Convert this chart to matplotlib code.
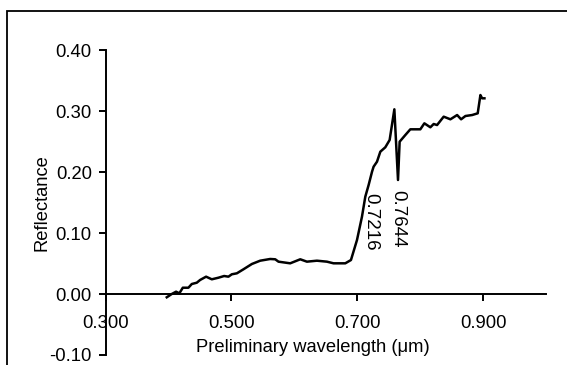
import matplotlib
matplotlib.use("Agg")
import matplotlib.pyplot as plt
from matplotlib.patches import Rectangle
from matplotlib.ticker import FormatStrFormatter

plt.rcParams['font.family'] = ['Liberation Sans', 'DejaVu Sans']
plt.rcParams['axes.unicode_minus'] = False

wavelength = [0.3971, 0.4050, 0.4119, 0.4171, 0.4226, 0.4315, 0.4369, 0.4448, 0.4501, 0.4596,
              0.4687, 0.4792, 0.4883, 0.4951, 0.5005, 0.5085, 0.5190, 0.5324, 0.5456, 0.5615,
              0.5695, 0.5747, 0.5933, 0.6093, 0.6199, 0.6358, 0.6517, 0.6622, 0.6809, 0.6899,
              0.6995, 0.7074, 0.7127, 0.7180, 0.7234, 0.7259, 0.7313, 0.7366, 0.7445, 0.7514,
              0.7589, 0.7647, 0.7673, 0.7764, 0.7843, 0.8002, 0.8066, 0.8161, 0.8214, 0.8268,
              0.8373, 0.8480, 0.8587, 0.8650, 0.8719, 0.8825, 0.8914, 0.8957, 0.8984, 0.9021]
reflectance = [-0.0054, 0.0000, 0.0038, 0.0011, 0.0103, 0.0103, 0.0164, 0.0185, 0.0230, 0.0284,
               0.0241, 0.0267, 0.0295, 0.0284, 0.0323, 0.0339, 0.0405, 0.0492, 0.0546, 0.0574,
               0.0569, 0.0530, 0.0503, 0.0569, 0.0530, 0.0546, 0.0530, 0.0503, 0.0503, 0.0557,
               0.0885, 0.1267, 0.1595, 0.1787, 0.2005, 0.2087, 0.2169, 0.2333, 0.2405, 0.2525,
               0.3028, 0.1869, 0.2497, 0.2607, 0.2700, 0.2700, 0.2798, 0.2733, 0.2787, 0.2770,
               0.2907, 0.2864, 0.2934, 0.2864, 0.2918, 0.2934, 0.2962, 0.3262, 0.3208, 0.3208]

x_ticks = [0.3, 0.5, 0.7, 0.9]
y_ticks = [-0.1, 0.0, 0.1, 0.2, 0.3, 0.4]
annotations = [0.7216, 0.7644]
annotation_top = [0.166, 0.170]

fig = plt.figure(figsize=(5.67, 3.65), dpi=100)
ax = fig.add_axes([0.1864, 0.0274, 0.7766, 0.8356])

ax.plot(wavelength, reflectance, color='black', lw=1.8)

ax.set_xlim(0.3, 1.0)
ax.set_ylim(-0.1, 0.4)
ax.set_xticks(x_ticks)
ax.set_yticks(y_ticks)
ax.xaxis.set_major_formatter(FormatStrFormatter('%.3f'))
ax.yaxis.set_major_formatter(FormatStrFormatter('%.2f'))

for s in ['top', 'right']:
    ax.spines[s].set_visible(False)
ax.spines['bottom'].set_position(('data', 0))
for s in ['left', 'bottom']:
    ax.spines[s].set_linewidth(1.4)
ax.tick_params(axis='both', direction='out', width=1.4, length=5, labelsize=13.3)
ax.tick_params(axis='x', pad=10)
ax.tick_params(axis='y', pad=5)

for xv, yt in zip(annotations, annotation_top):
    ax.text(xv, yt, f'{xv:.4f}', rotation=270, ha='center', va='top', fontsize=13.5)

fig.text(313 / 567, 1 - 348 / 365, 'Preliminary wavelength (μm)', ha='center', va='center', fontsize=13.2)
fig.text(42 / 567, 1 - 203 / 365, 'Reflectance', ha='center', va='center', rotation=90, fontsize=13.2)

fig.patches.append(Rectangle((7 / 567, -0.2), 1.2, 1.2 + (1 - 11 / 365) - 1.0,
                             transform=fig.transFigure, fill=False, ec='black', lw=1.3))

fig.savefig('out.png', dpi=100)
